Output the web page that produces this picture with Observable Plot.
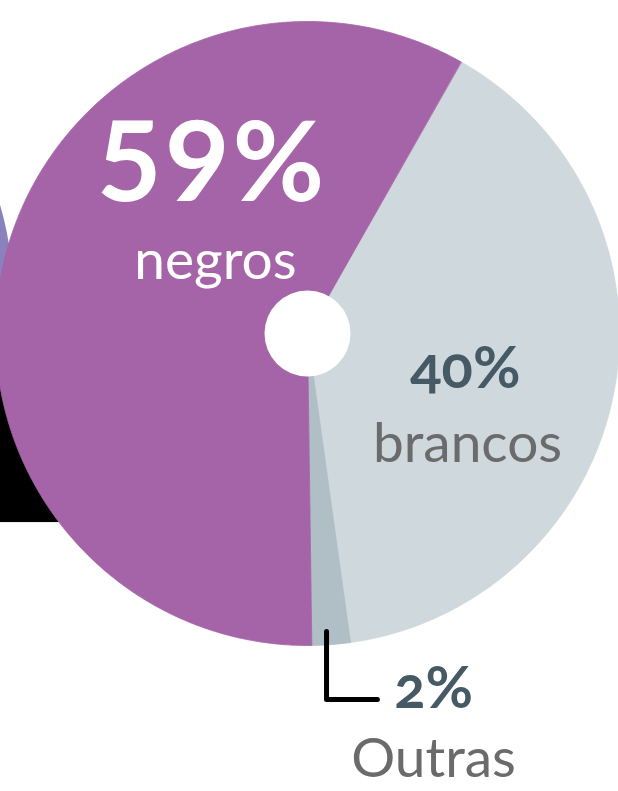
<!DOCTYPE html>
<html><head><meta charset="utf-8">
<script src="https://cdn.jsdelivr.net/npm/d3@7"></script>
<script src="https://cdn.jsdelivr.net/npm/@observablehq/plot@0.6"></script>
<style>
html,body{margin:0;padding:0;background:#fff;overflow:hidden;}
g[fill="#455a64"] text{font-variant-numeric:oldstyle-nums;font-feature-settings:"onum" 1;}
g[font-size="112"] text{letter-spacing:3px;}
</style></head><body><div id="chart"></div>
<script>
// data
const categories = ["brancos", "Outras", "negros"];
const values = [40, 2, 59];
const colors = ["#cfd8dc", "#b0bec5", "#a564a8"];
const pctLabels = values.map(v => v + "%");

// pie geometry (unit circle, y up), first slice starts at ~29.5° clockwise from 12 o'clock
const start = 29.5 * Math.PI / 180;
const rows = categories.map((c, i) => ({category: c, value: values[i], label: pctLabels[i]}));
const arcs = d3.pie().sort(null).value(d => d.value).startAngle(start).endAngle(start + 2 * Math.PI)(rows);
const slicePts = [];
for (const a of arcs) {
  slicePts.push({category: a.data.category, x: 0, y: 0});
  const n = Math.max(2, Math.ceil((a.endAngle - a.startAngle) / (Math.PI / 360)));
  for (let k = 0; k <= n; k++) {
    const t = a.startAngle + (a.endAngle - a.startAngle) * k / n;
    slicePts.push({category: a.data.category, x: Math.sin(t), y: Math.cos(t)});
  }
}

// label placement (layout, in unit-circle coordinates)
const place = {
  negros: {pct: [-0.306, 0.426], name: [-0.295, 0.176]},
  brancos: {pct: [0.506, -0.176], name: [0.513, -0.413]},
  Outras: {pct: [0.404, -1.2], name: [0.404, -1.423]}
};
const pctRows = rows.map(r => ({text: r.label, category: r.category, x: place[r.category].pct[0], y: place[r.category].pct[1]}));
const nameRows = rows.map(r => ({text: r.category, category: r.category, x: place[r.category].name[0], y: place[r.category].name[1]}));
const leader = [{x: 0.061, y: -0.955}, {x: 0.061, y: -1.173}, {x: 0.224, y: -1.173}];

const chart = Plot.plot({
  width: 618, height: 791, margin: 0,
  style: {background: "white", fontFamily: "Lato, sans-serif"},
  x: {domain: [-1, 1], range: [-5, 619], axis: null},
  y: {domain: [-1, 1], range: [645, 21], axis: null},
  color: {domain: categories, range: colors},
  marks: [
    // fragments of the neighbouring chart, cropped at the left edge
    Plot.rect([{x1: -1.03, x2: -0.5, y1: 0.0, y2: -0.606}], {x1: "x1", x2: "x2", y1: "y1", y2: "y2", fill: "#000"}),
    Plot.dot([{x: -1.907, y: 0.138}], {x: "x", y: "y", r: 300, fill: "#8a82bd"}),
    // slices
    Plot.line(slicePts, {x: "x", y: "y", z: "category", fill: "category", stroke: "category", strokeWidth: 0.8, curve: "linear-closed"}),
    Plot.dot([{x: 0, y: 0}], {x: "x", y: "y", r: 43, fill: "white"}),
    Plot.line(leader, {x: "x", y: "y", stroke: "#000", strokeWidth: 5, strokeLinecap: "round", strokeLinejoin: "round"}),
    // labels
    Plot.text(pctRows.filter(d => d.category === "negros"), {x: "x", y: "y", text: "text", fill: "white", fontSize: 112, fontWeight: 700, lineAnchor: "bottom", textAnchor: "middle"}),
    Plot.text(nameRows.filter(d => d.category === "negros"), {x: "x", y: "y", text: "text", fill: "white", fontSize: 55, lineAnchor: "bottom", textAnchor: "middle"}),
    Plot.text(pctRows.filter(d => d.category !== "negros"), {x: "x", y: "y", text: "text", fill: "#455a64", fontSize: 58, fontWeight: 700, lineAnchor: "bottom", textAnchor: "middle"}),
    Plot.text(nameRows.filter(d => d.category !== "negros"), {x: "x", y: "y", text: "text", fill: "#6b6b6b", fontSize: 55, lineAnchor: "bottom", textAnchor: "middle"})
  ]
});
document.getElementById("chart").appendChild(chart);
</script></body></html>
